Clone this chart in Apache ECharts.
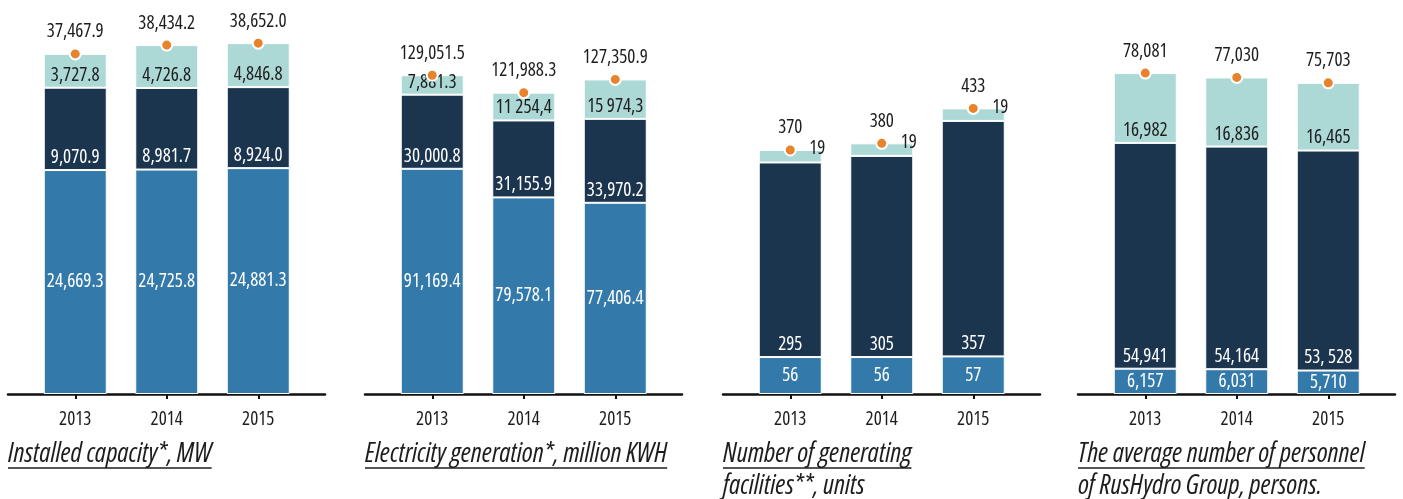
<!DOCTYPE html>
<html>
<head>
<meta charset="utf-8">
<script src="https://cdn.jsdelivr.net/npm/echarts@6/dist/echarts.min.js"></script>
<style>
  html, body { margin: 0; padding: 0; background: #fff; }
  #chart { width: 1403px; height: 499px; }
</style>
</head>
<body>
<div id="chart"></div>
<script>
const years = ['2013', '2014', '2015'];

// installed capacity, MW
const capBase = [24669.3, 24725.8, 24881.3];
const capMid = [9070.9, 8981.7, 8924.0];
const capTop = [3727.8, 4726.8, 4846.8];
const capTotal = [37467.9, 38434.2, 38652.0];

// electricity generation, million KWH
const genBase = [91169.4, 79578.1, 77406.4];
const genMid = [30000.8, 31155.9, 33970.2];
const genTop = [7881.3, 11254.4, 15974.3];
const genTotal = [129051.5, 121988.3, 127350.9];
const genTopText = ['7,881.3', '11 254,4', '15 974,3'];

// generating facilities, units
const unitBase = [56, 56, 57];
const unitMid = [295, 305, 357];
const unitTop = [19, 19, 19];
const unitTotal = [370, 380, 433];

// personnel, persons
const staffBase = [6157, 6031, 5710];
const staffMid = [54941, 54164, 53528];
const staffTop = [16982, 16836, 16465];
const staffTotal = [78081, 77030, 75703];
const staffMidText = ['54,941', '54,164', '53, 528'];

const titles = [
  ['Installed capacity*, MW'],
  ['Electricity generation*, million KWH'],
  ['Number of generating', 'facilities**, units'],
  ['The average number of personnel', 'of RusHydro Group, persons.']
];

// narrow face: Open Sans with the condensed width
const FONT = '"Open Sans", "DejaVu Sans Condensed", sans-serif';
const NARROW = 'condensed';
const C_BASE = '#337aaa';
const C_MID = '#1c354f';
const C_TOP = '#acd8d5';
const C_DOT = '#e8832b';
const C_TEXT = '#1d1d1d';

function fmt(v, d) {
  const s = v.toFixed(d);
  const parts = s.split('.');
  parts[0] = parts[0].replace(/\B(?=(\d{3})+(?!\d))/g, ',');
  return parts.join('.');
}
const texts = (arr, d) => arr.map(v => fmt(v, d));

const panels = [
  { base: capBase, mid: capMid, top: capTop, total: capTotal, dec: 1, max: 41200 },
  { base: genBase, mid: genMid, top: genTop, total: genTotal, dec: 1, max: 151400, topText: genTopText },
  { base: unitBase, mid: unitMid, top: unitTop, total: unitTotal, dec: 0, max: 567, sideTop: true },
  { base: staffBase, mid: staffMid, top: staffTop, total: staffTotal, dec: 0, max: 91000, midText: staffMidText }
];

// layout of each panel (axis line start)
const lineLeft = [8, 365, 723, 1078];
const lineWidth = 317;
const gridTop = 20;
const gridBottom = 105;

const grid = [], xAxis = [], yAxis = [], series = [], graphic = [];
const labelFont = { fontSize: 19, fontFamily: FONT, fontWeight: NARROW };

panels.forEach((p, i) => {
  const g = i * 2;
  grid.push({ left: lineLeft[i] + 21.5, width: 274.5, top: gridTop, bottom: gridBottom });
  grid.push({ left: lineLeft[i], width: lineWidth, top: gridTop, bottom: gridBottom });

  xAxis.push({
    type: 'category', gridIndex: g, data: years,
    axisLine: { show: false },
    axisTick: { show: true, alignWithLabel: true, length: 5, lineStyle: { color: '#111', width: 2 } },
    axisLabel: Object.assign({ color: C_TEXT, margin: 16 }, labelFont)
  });
  xAxis.push({
    type: 'value', gridIndex: g + 1, min: 0, max: 1,
    axisLine: { show: true, onZero: false, lineStyle: { color: '#111', width: 2.5 } },
    axisTick: { show: false }, axisLabel: { show: false }, splitLine: { show: false }
  });
  yAxis.push({ type: 'value', gridIndex: g, min: 0, max: p.max, show: false, splitLine: { show: false } });
  yAxis.push({ type: 'value', gridIndex: g + 1, min: 0, max: 1, show: false, splitLine: { show: false } });

  const baseText = texts(p.base, p.dec);
  const midText = p.midText || texts(p.mid, p.dec);
  const topText = p.topText || texts(p.top, p.dec);
  const totalText = texts(p.total, p.dec);

  const common = {
    type: 'bar', xAxisIndex: g, yAxisIndex: g, stack: 'p' + i, barWidth: 63
  };
  series.push(Object.assign({}, common, {
    data: p.base,
    itemStyle: { color: C_BASE, borderColor: '#fff', borderWidth: 1 },
    label: Object.assign({ show: true, position: 'inside', color: '#fff',
      formatter: d => baseText[d.dataIndex] }, labelFont)
  }));
  series.push(Object.assign({}, common, {
    data: p.mid,
    itemStyle: { color: C_MID, borderColor: '#fff', borderWidth: 1 },
    label: Object.assign({ show: true, position: 'insideBottom', distance: 3, color: '#fff',
      formatter: d => midText[d.dataIndex] }, labelFont)
  }));
  const topLabel = p.sideTop
    ? { show: true, position: ['50%', 0], align: 'left', verticalAlign: 'middle', offset: [19, -1] }
    : { show: true, position: 'insideBottom', distance: 3 };
  series.push(Object.assign({}, common, {
    data: p.top,
    itemStyle: { color: C_TOP, borderColor: '#fff', borderWidth: 1 },
    label: Object.assign(topLabel, { color: C_TEXT,
      formatter: d => topText[d.dataIndex] }, labelFont)
  }));
  series.push({
    type: 'scatter', xAxisIndex: g, yAxisIndex: g, data: p.total, z: 5,
    symbolSize: 11,
    itemStyle: { color: C_DOT, borderColor: '#fff', borderWidth: 2, opacity: 1 },
    label: Object.assign({ show: true, position: 'top', distance: 6, color: C_TEXT,
      formatter: d => totalText[d.dataIndex] }, labelFont)
  });

  // underlined italic titles under each panel
  const ctx = document.createElement('canvas').getContext('2d');
  const titleFont = 'italic ' + NARROW + ' 27px ' + FONT;
  ctx.font = titleFont;
  titles[i].forEach((line, k) => {
    const top = 441 + k * 32;
    const w = ctx.measureText(line).width;
    graphic.push({
      type: 'text', left: lineLeft[i], top: top,
      style: { text: line, font: titleFont, fill: C_TEXT }
    });
    graphic.push({
      type: 'line', shape: { x1: lineLeft[i], y1: top + 27, x2: lineLeft[i] + w, y2: top + 27 },
      style: { stroke: C_TEXT, lineWidth: 1.5 }
    });
  });
});

const chart = echarts.init(document.getElementById('chart'));
chart.setOption({
  animation: false,
  backgroundColor: '#fff',
  grid, xAxis, yAxis, series, graphic
});
</script>
</body>
</html>
